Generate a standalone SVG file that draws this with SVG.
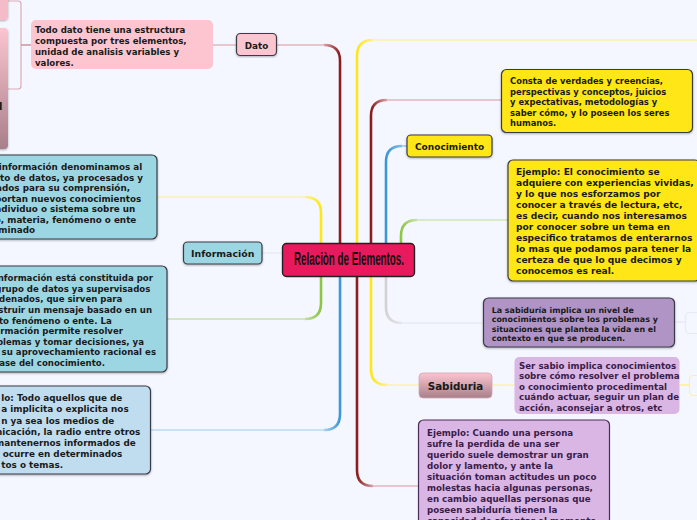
<svg xmlns="http://www.w3.org/2000/svg" width="697" height="520" viewBox="0 0 697 520">
<style>
svg{font-family:"DejaVu Sans",Verdana,sans-serif;font-weight:700;font-size:8.8px}
text{fill:#1a1a1a}
.e{text-anchor:end}
.box{stroke:#3a3a44;stroke-width:1.2;filter:url(#sh)}
.pink{fill:#fcc5d0}.cy{fill:#9dd6e3}.bl{fill:#c0ddf0}.ye{fill:#ffe614}.pu{fill:#b094c6}.li{fill:#d9b6e3}
.c{fill:none;stroke-width:2.6}.h{fill:none;stroke-width:1.4}
.dk text{fill:#3a1c4a}
#n-todo{font-size:8.6px}#n-dato{font-size:8.8px}#n-info1{font-size:8.8px}#n-info2{font-size:8.6px}#n-info3{font-size:8.84px}
#n-informacion{font-size:9.4px}#n-consta{font-size:8.4px}#n-conocimiento{font-size:9px}#n-ejemplo1{font-size:9.1px}
#n-sabiduria-def{font-size:7.95px}#n-sabiduria{font-size:10.3px}#n-sabio{font-size:8.66px}#n-ejemplo2{font-size:8.7px}
</style>
<defs>
<filter id="sh" x="-5%" y="-5%" width="110%" height="115%"><feDropShadow dx="0" dy="1" stdDeviation="0.8" flood-color="#000" flood-opacity="0.3"/></filter>
<linearGradient id="pg" x1="0" y1="0" x2="0" y2="1"><stop offset="0" stop-color="#fcc5d0"/><stop offset="1" stop-color="#a87f8a"/></linearGradient>
<linearGradient id="r1" gradientUnits="userSpaceOnUse" x1="340" y1="0" x2="322" y2="0"><stop offset="0" stop-color="#8b1a1a"/><stop offset="1" stop-color="#e2b4bc"/></linearGradient>
<linearGradient id="r2" gradientUnits="userSpaceOnUse" x1="371" y1="0" x2="389" y2="0"><stop offset="0" stop-color="#8b1a1a"/><stop offset="1" stop-color="#e2b4bc"/></linearGradient>
<linearGradient id="r3" gradientUnits="userSpaceOnUse" x1="357" y1="0" x2="375" y2="0"><stop offset="0" stop-color="#8b1a1a"/><stop offset="1" stop-color="#e2b4bc"/></linearGradient>
<linearGradient id="y1" gradientUnits="userSpaceOnUse" x1="321" y1="0" x2="303" y2="0"><stop offset="0" stop-color="#ffe614"/><stop offset="1" stop-color="#fdf2a8"/></linearGradient>
<linearGradient id="y2" gradientUnits="userSpaceOnUse" x1="357" y1="0" x2="375" y2="0"><stop offset="0" stop-color="#ffe614"/><stop offset="1" stop-color="#fdf2a8"/></linearGradient>
<linearGradient id="y3" gradientUnits="userSpaceOnUse" x1="371" y1="0" x2="389" y2="0"><stop offset="0" stop-color="#ffe614"/><stop offset="1" stop-color="#fdf2a8"/></linearGradient>
<linearGradient id="g1" gradientUnits="userSpaceOnUse" x1="321" y1="0" x2="303" y2="0"><stop offset="0" stop-color="#8cc63f"/><stop offset="1" stop-color="#c9e2ae"/></linearGradient>
<linearGradient id="g2" gradientUnits="userSpaceOnUse" x1="401" y1="0" x2="419" y2="0"><stop offset="0" stop-color="#8cc63f"/><stop offset="1" stop-color="#cfe6b8"/></linearGradient>
<linearGradient id="b1" gradientUnits="userSpaceOnUse" x1="340" y1="0" x2="322" y2="0"><stop offset="0" stop-color="#3b96d6"/><stop offset="1" stop-color="#b8daf3"/></linearGradient>
<linearGradient id="b2" gradientUnits="userSpaceOnUse" x1="386" y1="0" x2="404" y2="0"><stop offset="0" stop-color="#3b96d6"/><stop offset="1" stop-color="#8cc4ea"/></linearGradient>
<linearGradient id="s1" gradientUnits="userSpaceOnUse" x1="386" y1="0" x2="404" y2="0"><stop offset="0" stop-color="#d2d2d2"/><stop offset="1" stop-color="#e8eaf2"/></linearGradient>
</defs>
<rect width="697" height="520" fill="#f4f7ff"/>
<g id="connectors">
<path class="c" stroke="url(#r1)" d="M340 250V61Q340 45 324 45"/><path class="h" stroke="#e2b4bc" d="M324 45H277"/>
<path class="c" stroke="url(#y1)" d="M321 250V213Q321 197 305 197"/><path class="h" stroke="#fdf2a8" d="M305 197H157"/>
<path class="c" stroke="url(#g1)" d="M321 270V303Q321 319 305 319"/><path class="h" stroke="#c9e2ae" d="M305 319H167"/>
<path class="c" stroke="url(#b1)" d="M340 270V414Q340 430 324 430"/><path class="h" stroke="#b8daf3" d="M324 430H151"/>
<path class="c" stroke="url(#y2)" d="M357 250V56Q357 40 373 40"/><path class="h" stroke="#fdf2a8" d="M373 40H697"/>
<path class="c" stroke="url(#r2)" d="M371 250V116Q371 100 387 100"/><path class="h" stroke="#e2b4bc" d="M387 100H501"/>
<path class="c" stroke="url(#b2)" d="M386 250V162Q386 146 402 146"/><path class="h" stroke="#8cc4ea" d="M402 146H407"/>
<path class="c" stroke="url(#g2)" d="M401 250V236Q401 220 417 220"/><path class="h" stroke="#cfe6b8" d="M417 220H508"/>
<path class="c" stroke="url(#s1)" d="M386 270V307Q386 323 402 323"/><path class="h" stroke="#e8eaf2" d="M402 323H483"/>
<path class="c" stroke="url(#y3)" d="M371 270V369Q371 385 387 385"/><path class="h" stroke="#fdf2a8" d="M387 385H419"/>
<path class="c" stroke="url(#r3)" d="M357 270V470Q357 486 373 486"/><path class="h" stroke="#e2b4bc" d="M373 486H419"/>
<path class="h" stroke="#e8eaf2" d="M262 253H282"/>
<path class="h" stroke="#e2b4bc" d="M213 45H236"/>
<path class="h" stroke="#fdf2a8" d="M491 385H515"/>
<path class="h" stroke="#fff08a" d="M679 385H689"/>
<path class="h" stroke="#e8eaf2" stroke-width="2" d="M674 322H685"/>
<path fill="none" stroke="#dfa9b4" stroke-width="1.2" d="M8 1H18Q21 1 21 4V86Q21 89 18 89H8"/>
<path fill="none" stroke="#cf9aa5" stroke-width="1.6" d="M21 45H31"/>
</g>
<g id="n-top-left"><rect x="-20" y="-20" width="28" height="40" rx="4" fill="#f3bcc8" filter="url(#sh)"/></g>
<g id="n-left-gradient"><rect x="-20" y="28" width="28" height="121" rx="4" fill="url(#pg)" filter="url(#sh)"/><text x="2.4" y="110" text-anchor="end" font-size="11">l</text></g>
<g id="n-todo"><rect class="pink" x="31" y="20" width="182" height="49" rx="5"/>
<text x="35" y="32.500">Todo dato tiene una estructura</text><text x="35" y="43.500">compuesta por tres elementos,</text><text x="35" y="54.500">unidad de analisis variables y</text><text x="35" y="65.500">valores.</text></g>
<g id="n-dato"><rect class="box pink" x="236.500" y="33.500" width="40" height="22" rx="4"/><text x="256.500" y="49" text-anchor="middle">Dato</text></g>
<g id="n-info1"><rect class="box cy" x="-20" y="155" width="177" height="84" rx="5"/>
<text class="e" x="142.300" y="169.500">o información denominamos al</text><text class="e" x="143" y="180.500">nto de datos, ya procesados y</text><text class="e" x="130" y="190.500">nados para su comprensión,</text><text class="e" x="141.300" y="201.500">portan nuevos conocimientos</text><text class="e" x="135.300" y="211.500">individuo o sistema sobre un</text><text class="e" x="136.300" y="222.500">to, materia, fenómeno o ente</text><text class="e" x="35" y="232.500">minado</text></g>
<g id="n-info2"><rect class="box cy" x="-20" y="266" width="187" height="106" rx="5"/>
<text class="e" x="153" y="281">información está constituida por</text><text class="e" x="150.300" y="291.500">grupo de datos ya supervisados</text><text class="e" x="122.300" y="302">rdenados, que sirven para</text><text class="e" x="152" y="312.500">struir un mensaje basado en un</text><text class="e" x="111.700" y="323.500">rto fenómeno o ente. La</text><text class="e" x="123" y="333.500">ormación permite resolver</text><text class="e" x="144" y="344.500">blemas y tomar decisiones, ya</text><text class="e" x="156" y="354.500">e su aprovechamiento racional es</text><text class="e" x="105" y="365.500">base del conocimiento.</text></g>
<g id="n-info3"><rect class="box bl" x="-20" y="386" width="170.500" height="88" rx="5"/>
<text class="e" x="122.300" y="401">lo: Todo aquellos que de</text><text class="e" x="128.700" y="412">a implicita o explicita nos</text><text class="e" x="114.300" y="423.500">n ya sea los medios de</text><text class="e" x="140.300" y="434.500">nicación, la radio entre otros</text><text class="e" x="135.700" y="445.500">mantenernos informados de</text><text class="e" x="122.300" y="456.500">ocurre en determinados</text><text class="e" x="63" y="467.500">tos o temas.</text></g>
<g id="n-informacion"><rect class="box cy" x="183.500" y="242" width="78.500" height="22" rx="4"/><text x="222.700" y="257" text-anchor="middle">Información</text></g>
<g id="n-center"><rect x="282.500" y="243.500" width="132" height="33" rx="4" fill="#e8195c" stroke="#222" stroke-width="1.4"/><text x="294" y="264.800" textLength="110" lengthAdjust="spacingAndGlyphs" style="font-family:'Liberation Sans',sans-serif;font-size:18px;fill:#111">Relaciòn de Elementos.</text></g>
<g id="n-consta"><rect class="box ye" x="501.500" y="69.500" width="191" height="63" rx="5"/>
<text x="510" y="83.500">Consta de verdades y creencias,</text><text x="510" y="94.500">perspectivas y conceptos, juicios</text><text x="510" y="104.500">y expectativas, metodologías y</text><text x="510" y="115.500">saber cómo, y lo poseen los seres</text><text x="510" y="125.500">humanos.</text></g>
<g id="n-conocimiento"><rect class="box ye" x="407" y="135" width="85" height="22" rx="4"/><text x="415" y="150">Conocimiento</text></g>
<g id="n-ejemplo1"><rect class="box ye" x="508" y="160" width="192" height="121" rx="5"/>
<text x="516" y="174.500">Ejemplo: El conocimiento se</text><text x="516" y="185.500">adquiere con experiencias vividas,</text><text x="516" y="196.500">y lo que nos esforzamos por</text><text x="516" y="207.500">conocer a través de lectura, etc,</text><text x="516" y="218.500">es decir, cuando nos interesamos</text><text x="516" y="229.500">por conocer sobre un tema en</text><text x="516" y="240.500">especifico tratamos de enterarnos</text><text x="516" y="251.500">lo mas que podamos para tener la</text><text x="516" y="262.500">certeza de que lo que decimos y</text><text x="516" y="273.500">conocemos es real.</text></g>
<g id="n-sabiduria-def"><rect class="box pu" x="483.500" y="298" width="191" height="49" rx="5"/>
<text x="491.700" y="312.500">La sabiduría implica un nivel de</text><text x="491.700" y="321.500">conocimientos sobre los problemas y</text><text x="491.700" y="331.500">situaciones que plantea la vida en el</text><text x="491.700" y="340.500">contexto en que se producen.</text></g>
<g id="n-faint"><rect x="685.500" y="312.500" width="20" height="21" rx="4" fill="#f4f7ff" stroke="#e8eaf2" stroke-width="1.2"/></g>
<g id="n-sabiduria"><rect x="419" y="373" width="73" height="25" rx="4" fill="url(#pg)" stroke="#d0a8b4" stroke-width="0.8"/><text x="455.500" y="390" text-anchor="middle">Sabiduria</text></g>
<g id="n-sabio" class="dk"><rect class="li" x="514.500" y="357" width="165" height="57" rx="5"/>
<text x="519" y="368.500">Ser sabio implica conocimientos</text><text x="519" y="378.500">sobre cómo resolver el problema</text><text x="519" y="389.500">o conocimiento procedimental</text><text x="519" y="399.500">cuándo actuar, seguir un plan de</text><text x="519" y="410.500">acción, aconsejar a otros, etc</text></g>
<g id="n-faint2"><rect x="689.500" y="375.500" width="20" height="20" rx="4" fill="#f4f7ff" stroke="#fdf0a0" stroke-width="1.2"/></g>
<g id="n-ejemplo2" class="dk"><rect class="li" x="418.500" y="420" width="191" height="120" rx="5" stroke="#4a2a5c" stroke-width="1.2"/>
<text x="427" y="435.500">Ejemplo: Cuando una persona</text><text x="427" y="446.500">sufre la perdida de una ser</text><text x="427" y="457.500">querido suele demostrar un gran</text><text x="427" y="468.500">dolor y lamento, y ante la</text><text x="427" y="479.500">situación toman actitudes un poco</text><text x="427" y="490.500">molestas hacia algunas personas,</text><text x="427" y="501.500">en cambio aquellas personas que</text><text x="427" y="512.500">poseen sabiduría tienen la</text><text x="427" y="523.500">capacidad de afrontar el momento</text></g>
</svg>
